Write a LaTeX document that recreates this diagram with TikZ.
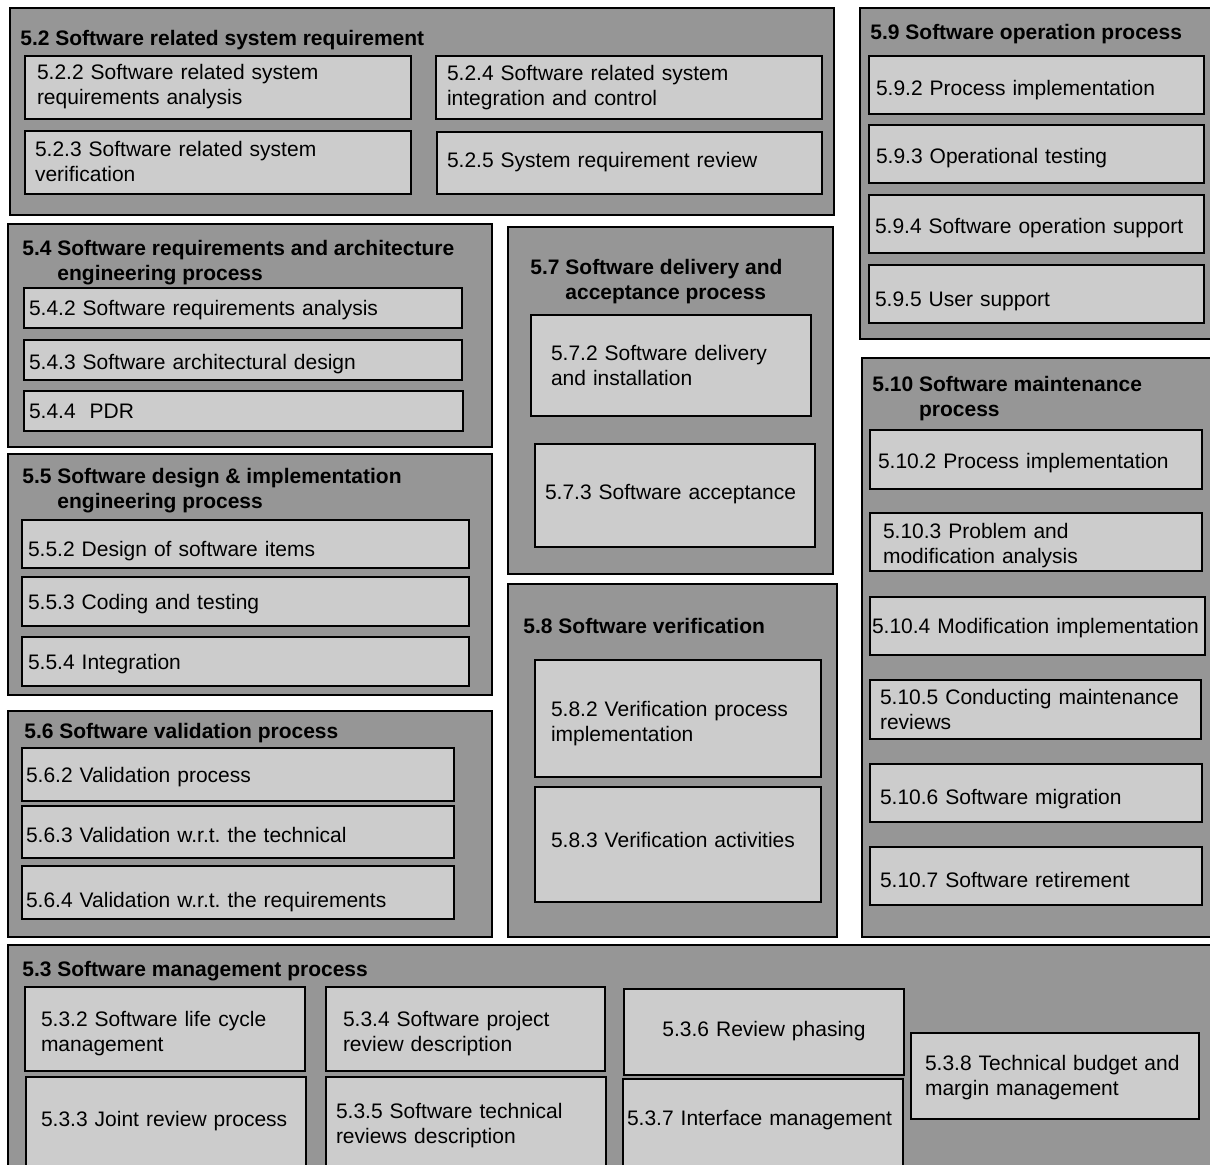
\documentclass[tikz,border=0pt]{standalone}
\usepackage{fontspec}
\setmainfont{Liberation Sans}
\usepackage{tikz}
\definecolor{ProcGroup}{HTML}{969696}
\definecolor{ProcItem}{HTML}{CCCCCC}

\begin{document}
\begin{tikzpicture}[
    x=0.5pt,y=-0.5pt,
    procgroup/.style n args={2}{draw,fill=ProcGroup,line width=1pt,anchor=north west,outer sep=0pt,inner sep=0pt,minimum width=#1*0.5pt,minimum height=#2*0.5pt},
    procitem/.style n args={4}{draw,fill=ProcItem,line width=1pt,anchor=north west,outer sep=0pt,inner ysep=0pt,inner xsep=#3*0.5pt,minimum width=#1*0.5pt,minimum height=#2*0.5pt,text width=(#1-2*#3)*0.5pt,text height=#4*0.5pt,text depth=(#2-#4)*0.5pt,align=left,font=\fontsize{10.5}{12.5}\selectfont},
    proctitle/.style={anchor=north west,inner sep=0pt,align=left,font=\fontsize{10.5}{12.5}\selectfont\bfseries}
  ]
    \useasboundingbox (0,0) rectangle (1210,1164);
    \clip (0,0) rectangle (1210,1164);

    % process groups
    \node[procgroup={824}{207}] (p52) at (10,8) {};
    \node[procgroup={352}{331}] (p59) at (860,8) {};
    \node[procgroup={484}{223}] (p54) at (8,224) {};
    \node[procgroup={325}{347}] (p57) at (508,227) {};
    \node[procgroup={484}{241}] (p55) at (8,454) {};
    \node[procgroup={329}{353}] (p58) at (508,584) {};
    \node[procgroup={352}{579}] (p510) at (862,358) {};
    \node[procgroup={484}{226}] (p56) at (8,711) {};
    \node[procgroup={1206}{232}] (p53) at (8,945) {};

    \node[proctitle] (t52) at (20,30) {5.2 Software related system requirement};
    \node[proctitle] (t59) at (870,24) {5.9 Software operation process};
    \node[proctitle] (t54) at (22,240) {5.4 Software requirements and architecture\\\phantom{5.4\ }engineering process};
    \node[proctitle] (t57) at (530,259) {5.7 Software delivery and\\\phantom{5.7\ }acceptance process};
    \node[proctitle] (t55) at (22,468) {5.5 Software design \& implementation\\\phantom{5.5\ }engineering process};
    \node[proctitle] (t58) at (523,618) {5.8 Software verification};
    \node[proctitle] (t510) at (872,376) {5.10 Software maintenance\\\phantom{5.10\ }process};
    \node[proctitle] (t56) at (24,723) {5.6 Software validation process};
    \node[proctitle] (t53) at (22,961) {5.3 Software management process};

    % 5.2
    \node[procitem={386}{63}{12}{23.5}] (p522) at (25,56) {5.2.2 Software related system\\requirements analysis};
    \node[procitem={386}{63}{11}{24.5}] (p524) at (436,56) {5.2.4 Software related system\\integration and control};
    \node[procitem={386}{63}{10}{25.5}] (p523) at (25,131) {5.2.3 Software related system\\verification};
    \node[procitem={385}{62}{10}{35.5}] (p525) at (437,132) {5.2.5 System requirement review};

    % 5.9
    \node[procitem={335}{58}{7}{39}] (p592) at (869,56) {5.9.2 Process implementation};
    \node[procitem={335}{58}{7}{38.5}] (p593) at (869,125) {5.9.3 Operational testing};
    \node[procitem={335}{58}{6}{38.5}] (p594) at (869,195) {5.9.4 Software operation support};
    \node[procitem={335}{58}{6}{41.5}] (p595) at (869,265) {5.9.5 User support};

    % 5.4
    \node[procitem={438}{40}{5}{27.5}] (p542) at (24,288) {5.4.2 Software requirements analysis};
    \node[procitem={438}{40}{5}{29.5}] (p543) at (24,340) {5.4.3 Software architectural design};
    \node[procitem={439}{40}{5}{27.5}] (p544) at (24,391) {5.4.4\ \ PDR};

    % 5.5
    \node[procitem={447}{48}{6}{36.5}] (p552) at (22,520) {5.5.2 Design of software items};
    \node[procitem={447}{49}{6}{32.5}] (p553) at (22,577) {5.5.3 Coding and testing};
    \node[procitem={447}{49}{6}{32}] (p554) at (22,637) {5.5.4 Integration};

    % 5.6
    \node[procitem={432}{53}{4}{34}] (p562) at (22,748) {5.6.2 Validation process};
    \node[procitem={432}{52}{4}{36.5}] (p563) at (22,806) {5.6.3 Validation w.r.t.\ the technical};
    \node[procitem={432}{53}{4}{41}] (p564) at (22,866) {5.6.4 Validation w.r.t.\ the requirements};

    % 5.7 and 5.8
    \node[procitem={280}{101}{20}{45.5}] (p572) at (531,315) {5.7.2 Software delivery\\and installation};
    \node[procitem={280}{103}{10}{55.5}] (p573) at (535,444) {5.7.3 Software acceptance};
    \node[procitem={286}{117}{16}{56.5}] (p582) at (535,660) {5.8.2 Verification process\\implementation};
    \node[procitem={286}{115}{16}{60.5}] (p583) at (535,787) {5.8.3 Verification activities};

    % 5.10
    \node[procitem={332}{59}{8}{38.5}] (p5102) at (870,430) {5.10.2 Process implementation};
    \node[procitem={332}{58}{13}{25.5}] (p5103) at (870,513) {5.10.3 Problem and\\modification analysis};
    \node[procitem={335}{58}{2}{36}] (p5104) at (870,597) {5.10.4 Modification implementation};
    \node[procitem={331}{59}{10}{24}] (p5105) at (870,680) {5.10.5 Conducting maintenance\\reviews};
    \node[procitem={332}{58}{10}{40}] (p5106) at (870,764) {5.10.6 Software migration};
    \node[procitem={332}{58}{10}{40}] (p5107) at (870,847) {5.10.7 Software retirement};

    % 5.3
    \node[procitem={280}{84}{16}{39.5}] (p532) at (25,987) {5.3.2 Software life cycle\\management};
    \node[procitem={279}{84}{17}{39.5}] (p534) at (326,987) {5.3.4 Software project\\review description};
    \node[procitem={280}{90}{15}{49.5}] (p533) at (26,1077) {5.3.3 Joint review process};
    \node[procitem={280}{90}{10}{41.5}] (p535) at (326,1077) {5.3.5 Software technical\\reviews description};
    \node[procitem={280}{86}{10}{47.5},align=center] (p536) at (624,989) {5.3.6 Review phasing};
    \node[procitem={280}{90}{4}{46.5}] (p537) at (623,1079) {5.3.7 Interface management};
    \node[procitem={288}{86}{14}{37.5}] (p538) at (911,1033) {5.3.8 Technical budget and\\margin management};
  \end{tikzpicture}
\end{document}
